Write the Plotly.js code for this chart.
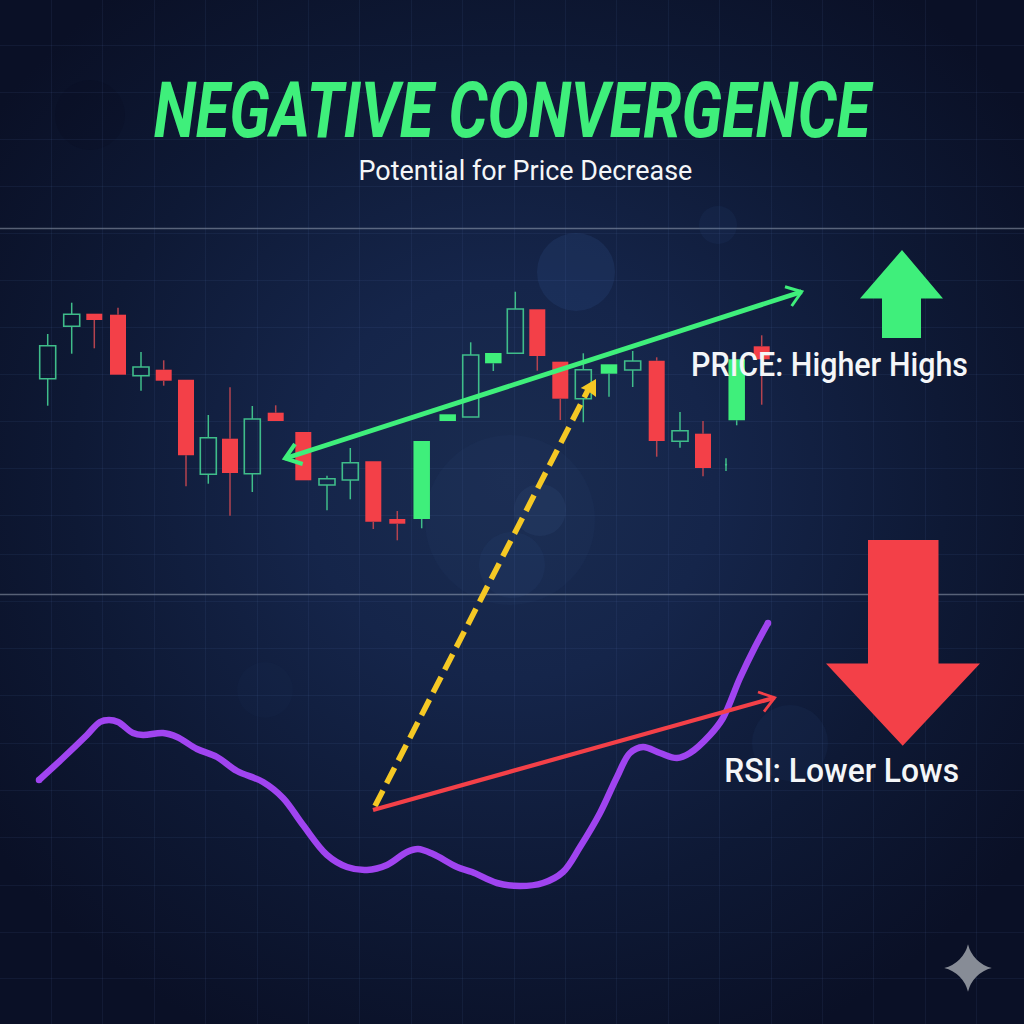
<!DOCTYPE html>
<html>
<head>
<meta charset="utf-8">
<script src="https://cdn.plot.ly/plotly-3.0.1.min.js"></script>
<style>
html,body{margin:0;padding:0;width:1024px;height:1024px;overflow:hidden;
background:radial-gradient(ellipse 640px 620px at 510px 480px,#1a2c50 0%,#15254a 32%,#0e1935 68%,#0a1026 100%);}
#chart{width:1024px;height:1024px;}
</style>
</head>
<body>
<div id="chart"></div>
<script>
const candleX    = [47.7,71.7,94.3,118,141,163.7,186,208.3,230,252.3,275.7,303.3,327,350.3,373.3,397.3,421.7,447.7,470.7,493.3,515.3,537.3,560.3,583.3,609,632.7,656.7,680,703,726,736.7,761.7];
const candleKind = ['h','h','r','r','h','r','r','h','r','h','r','r','h','h','r','r','g','g','h','g','h','r','r','h','g','h','r','h','r','h','g','r'];
const wickTop    = [334,302.7,313.7,307.7,352,360.3,379.7,415,387.3,406,405.3,432,475.7,448,461.3,511,441,414.3,342.3,353,291.7,309.3,361.7,353.3,364.3,351,357.3,412,421,458.3,359.3,335.3];
const bodyTop    = [345.7,314.3,313.7,314.7,367,369.7,379.7,437.7,438.7,419,412.7,432,478.7,462.7,461.3,519,441,414.3,355,353,309,309.3,361.7,369.7,364.3,361,360.7,430.7,433.7,464.6,359.3,346.3];
const bodyBottom = [378.7,326.3,320,374.7,375.7,380.7,455.3,474.3,473,473.7,421,480.3,485,480,521.7,523.7,519,421,417,363.3,353.3,356,398.7,398.7,373.7,370,441,441.3,468,464.8,420.3,359.3];
const wickBottom = [405.7,353.7,348.3,374.7,390.7,385.7,486.3,483.7,515.7,492,421,480.3,510.3,499.3,529,540.3,528.3,421,417,371,353.3,370.7,420,422.3,396.7,387,456.7,447.7,476.3,471,425.3,404.7];

const rsiX = [39,63,87,100,109,118,133,143,163,177,197,217,237,263,283,303,327,347,367,387,407,418,433,457,472,497,520,543,563,580,600,617,630,643,660,677,690,710,723,740,755,768];
const rsiY = [780,758,735,722,720,722,733,735,733,737,749,757,771,782,798,825,855,867,870,865,852,849,854,867,872,883,886,883,872,847,813,777,753,747,753,758,753,735,718,678,647,623];

const priceTrendX = [285,801.7], priceTrendY = [458.5,291.7];
const priceHeadRightX = [785,801.7,791.7], priceHeadRightY = [286.7,291.7,306];
const priceHeadLeftX = [295,285,302.7], priceHeadLeftY = [444,458.5,464];
const rsiTrendX = [373,774.7], rsiTrendY = [810,697.7];
const rsiHeadX = [758,774.7,764], rsiHeadY = [692,697.7,711.7];
const linkX = [375,589], linkY = [806,388];
const linkHeadX = [596,580.7,588,596,596], linkHeadY = [379,388,391,397,379];
const upArrowX = [902,943,921,921,882,882,860,902], upArrowY = [250,298.5,298.5,338,338,298.5,298.5,250];
const downArrowX = [868,938.5,938.5,980,902.7,826,868,868], downArrowY = [540,540,663.5,663.5,745.7,663.5,663.5,540];
const gridY = [45,92.5,139,186,233,280,327,374,421,468,515,554,601,648,695.5,743,790,837,885,932,978];
const ruleY = [228.5,594.5];
const titleText = 'NEGATIVE CONVERGENCE', subtitleText = 'Potential for Price Decrease';
const priceLabel = 'PRICE: Higher Highs', rsiLabel = 'RSI: Lower Lows';
const textWidths = [720,334,277,235];

const GREEN='#3fef7b', RED='#f34048', TEAL='#3fbd8a', PURPLE='#a044f0', YELLOW='#f5c824', WHITE='#f4f6f8';

const idx = k => candleX.map((_,i)=>i).filter(i=>candleKind[i]===k);
function wicks(list){
  const x=[],y=[];
  list.forEach(i=>{
    if(wickTop[i]<bodyTop[i]){x.push(candleX[i],candleX[i],null);y.push(wickTop[i],bodyTop[i],null);}
    if(wickBottom[i]>bodyBottom[i]){x.push(candleX[i],candleX[i],null);y.push(bodyBottom[i],wickBottom[i],null);}
  });
  return {x,y};
}
function line(x,y,color,width,extra){
  return Object.assign({type:'scatter',mode:'lines',x,y,hoverinfo:'skip',showlegend:false,
    line:{color,width}},extra||{});
}
function bodies(list,width,fill,border,bw){
  return {type:'bar',x:list.map(i=>candleX[i]),base:list.map(i=>bodyTop[i]),
    y:list.map(i=>bodyBottom[i]-bodyTop[i]),width:list.map(i=>(bodyBottom[i]-bodyTop[i]<1?0.5:width)),
    marker:{color:fill,line:{color:border,width:bw}},hoverinfo:'skip',showlegend:false};
}
const h=idx('h'), g=idx('g'), r=idx('r');
const wh=wicks(h), wg=wicks(g), wr=wicks(r);

const traces=[
  line(wh.x,wh.y,TEAL,1.5),
  line(wg.x,wg.y,TEAL,1.5),
  line(wr.x,wr.y,'#b5434f',1.5),
  bodies(h,16,'rgba(0,0,0,0)',TEAL,1.6),
  bodies(g,16.5,GREEN,GREEN,0),
  bodies(r,16,RED,RED,0),
  line(priceTrendX,priceTrendY,GREEN,4.8),
  line(priceHeadRightX,priceHeadRightY,GREEN,3),
  line(priceHeadLeftX,priceHeadLeftY,GREEN,4),
  line(rsiX,rsiY,PURPLE,6.5,{line:{color:PURPLE,width:6.5,shape:'spline',smoothing:1}}),
  {type:'scatter',mode:'markers',x:[rsiX[0],rsiX[rsiX.length-1]],y:[rsiY[0],rsiY[rsiY.length-1]],
   marker:{color:PURPLE,size:6.5},hoverinfo:'skip',showlegend:false},
  line(linkX,linkY,YELLOW,5.6,{line:{color:YELLOW,width:5.6,dash:'17.5px,8px'}}),
  line(linkHeadX,linkHeadY,YELLOW,0,{fill:'toself',fillcolor:YELLOW,mode:'lines'}),
  line(rsiTrendX,rsiTrendY,RED,4.2),
  line(rsiHeadX,rsiHeadY,RED,2.8),
  line(upArrowX,upArrowY,GREEN,0,{fill:'toself',fillcolor:GREEN}),
  line(downArrowX,downArrowY,RED,0,{fill:'toself',fillcolor:RED}),
  {type:'scatter',mode:'markers',x:[968],y:[968],hoverinfo:'skip',showlegend:false,
   marker:{symbol:'star-diamond',size:34,color:'#878c96',line:{width:0}}}
];

function blob(cx,cy,r,color){
  return {type:'circle',layer:'below',xref:'x',yref:'y',x0:cx-r,x1:cx+r,y0:cy-r,y1:cy+r,
    fillcolor:color,line:{width:0}};
}
const shapes=[
  blob(576,272,39,'rgba(50,85,145,0.20)'),
  blob(718,225,19,'rgba(50,85,145,0.10)'),
  blob(510,520,85,'rgba(50,85,145,0.07)'),
  blob(540,510,26,'rgba(70,105,160,0.12)'),
  blob(512,565,33,'rgba(70,105,160,0.08)'),
  blob(790,743,38,'rgba(40,70,125,0.12)'),
  blob(90,115,35,'rgba(5,10,25,0.12)'),
  blob(265,690,28,'rgba(50,85,145,0.03)')
].concat(ruleY.map(y=>({type:'line',layer:'below',xref:'paper',yref:'y',x0:0,x1:1,y0:y,y1:y,
   line:{color:'rgba(210,220,235,0.38)',width:1.4}})));

function label(text,x,y,size,family,color,weight,style){
  return {text,x,y,xref:'x',yref:'y',showarrow:false,xanchor:'center',yanchor:'middle',
    font:{family,size,color,weight:weight||400,style:style||'normal'}};
}
const annotations=[
  label(titleText,513,111,77,'Roboto, sans-serif',GREEN,700,'italic'),
  label(subtitleText,525,170,28,'Roboto, sans-serif',WHITE,400),
  label(priceLabel,829.5,364,33.5,'Roboto, sans-serif',WHITE,500),
  label(rsiLabel,841.5,770,33.5,'Roboto, sans-serif',WHITE,500)
];

const layout={
  width:1024,height:1024,margin:{l:0,r:0,t:0,b:0},
  paper_bgcolor:'rgba(0,0,0,0)',plot_bgcolor:'rgba(0,0,0,0)',
  showlegend:false,barmode:'overlay',
  xaxis:{range:[0,1024],showticklabels:false,ticks:'',zeroline:false,showline:false,
    showgrid:true,tick0:0,dtick:51.4,gridcolor:'rgba(95,135,195,0.09)',gridwidth:1,fixedrange:true},
  yaxis:{range:[1024,0],showticklabels:false,ticks:'',zeroline:false,showline:false,
    showgrid:true,tickmode:'array',tickvals:gridY,gridcolor:'rgba(95,135,195,0.09)',gridwidth:1,fixedrange:true},
  shapes,annotations
};
Plotly.newPlot('chart',traces,layout,{displayModeBar:false,staticPlot:true}).then(gd=>{
  // The reference lettering is condensed: narrow each real text to the width it has there.
  gd.querySelectorAll('.annotation-text').forEach((t,i)=>{
    const b=t.getBBox(), cx=b.x+b.width/2, sx=textWidths[i]/b.width;
    t.setAttribute('transform','translate('+cx+',0) scale('+sx+',1) translate('+(-cx)+',0)');
  });
});
</script>
</body>
</html>
